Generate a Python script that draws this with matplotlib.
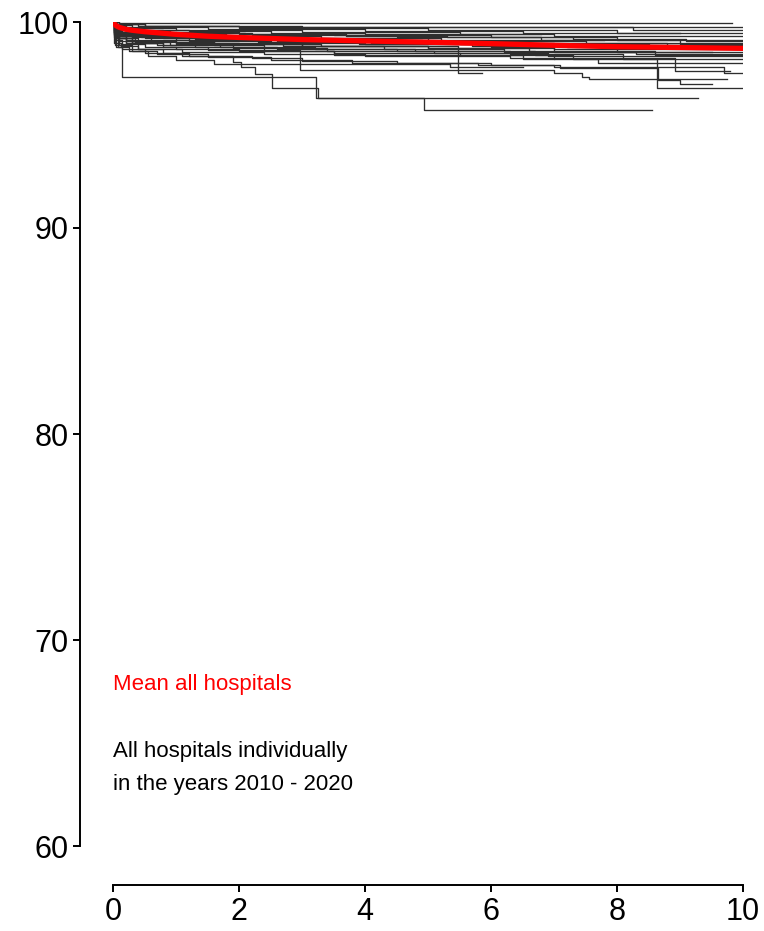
import matplotlib
matplotlib.use("Agg")
import matplotlib.pyplot as plt

plt.rcParams["font.family"] = ["Liberation Sans", "DejaVu Sans"]

# Mean survival curve over all hospitals (years, percent)
mean_t = [0, 0.02, 0.05, 0.1, 0.2, 0.3, 0.5, 1.0, 1.5, 2.0, 3.0, 4.0, 5.0, 6.0, 7.0, 8.0, 9.0, 10.0]
mean_v = [100, 99.92, 99.82, 99.74, 99.65, 99.6, 99.53, 99.4, 99.31, 99.25, 99.15, 99.08, 99.02, 98.95, 98.87, 98.8, 98.76, 98.72]

# Individual hospital step curves: event times, survival after each event, last follow-up
hosp_times = [
    [0, 0.1, 1.2],
    [0, 0.05, 0.4, 3.0],
    [0, 0.1, 0.5, 2.0, 8.25],
    [0, 0.05, 0.3, 1.5, 4.0, 6.5],
    [0, 0.05, 0.2, 1.0, 3.0, 5.5, 7.0],
    [0, 0.03, 0.15, 0.8, 2.0, 3.5, 6.0, 8.0],
    [0, 0.05, 0.3, 1.2, 2.5, 4.0],
    [0, 0.02, 0.2, 0.7, 1.8, 3.3, 5.2, 7.5],
    [0, 0.04, 0.25, 1.0, 2.2, 4.5, 6.8, 9.0],
    [0, 0.03, 0.1, 0.5, 1.5, 3.0, 5.0],
    [0, 0.02, 0.12, 0.6, 1.4, 2.8, 4.2, 6.5, 8.5],
    [0, 0.03, 0.2, 0.9, 2.0, 3.6, 5.5, 7.2],
    [0, 0.02, 0.15, 0.5, 1.2, 2.5, 4.0, 6.0, 7.0],
    [0, 0.05, 0.3, 1.0, 2.3, 3.9, 5.7, 8.0],
    [0, 0.02, 0.1, 0.4, 1.0, 2.0, 3.0, 5.0, 6.6, 8.6],
    [0, 0.03, 0.2, 0.6, 1.6, 3.3, 5.0, 7.0],
    [0, 0.02, 0.1, 0.3, 0.8, 1.7, 3.2, 4.8, 6.3, 8.1],
    [0, 0.04, 0.2, 0.7, 1.3, 2.6, 4.5, 6.7, 7.3, 7.7],
    [0, 0.03, 0.15, 0.5, 1.0, 2.0, 3.5, 5.5, 7.0, 8.63],
    [0, 0.05, 0.3, 0.8, 1.5, 2.97, 7.0, 7.45, 7.55],
    [0, 0.02, 0.12, 0.4, 1.1, 2.4, 4.0, 6.3, 8.92],
    [0, 0.05, 0.3, 1.0, 3.0, 5.47],
    [0, 0.05, 0.2, 0.4, 0.8, 1.2, 1.9, 2.03, 2.26, 2.52, 3.25, 4.94],
    [0, 0.03, 0.08, 0.14, 3.22],
    [0, 0.03, 0.15, 0.5, 1.1, 2.2, 3.0, 4.5, 6.0, 7.0, 9.7],
    [0, 0.05, 0.25, 0.7, 1.5, 2.5, 3.8, 5.8, 7.1, 8.65, 9.0],
    [0, 0.02, 0.1, 0.5, 1.5, 2.8, 4.4, 7.0],
    [0, 0.05, 0.5, 2.0, 5.0, 8.0],
    [0, 0.03, 0.2, 0.8, 1.6, 2.4, 3.5, 6.5],
    [0, 0.03, 0.1, 0.3, 0.55, 1.0, 1.6, 5.35],
    [0, 0.02, 0.1, 0.35, 0.9, 1.9, 3.4, 5.1, 6.9],
    [0, 0.04, 0.2, 0.6, 1.4, 2.7, 4.3, 6.2, 8.3],
    [0, 0.03, 0.15, 0.7, 1.7, 3.1, 4.9, 6.4, 8.8],
    [0, 0.02, 0.1, 0.45, 1.3, 2.6, 4.1, 5.9, 7.6],
    [0, 0.04, 0.25, 0.9, 2.1, 3.7, 5.3, 7.3, 9.1],
]
hosp_surv = [
    [100, 99.96, 99.94],
    [100, 99.9, 99.8, 99.74],
    [100, 99.88, 99.8, 99.74, 99.61],
    [100, 99.85, 99.75, 99.65, 99.55, 99.45],
    [100, 99.8, 99.7, 99.6, 99.5, 99.4, 99.3],
    [100, 99.7, 99.6, 99.5, 99.42, 99.35, 99.25, 99.15],
    [100, 99.75, 99.62, 99.55, 99.48, 99.4],
    [100, 99.6, 99.5, 99.4, 99.3, 99.2, 99.1, 99.0],
    [100, 99.65, 99.52, 99.45, 99.35, 99.25, 99.12, 98.95],
    [100, 99.55, 99.45, 99.35, 99.28, 99.2, 99.12],
    [100, 99.5, 99.4, 99.3, 99.22, 99.15, 99.05, 98.95, 98.85],
    [100, 99.5, 99.35, 99.25, 99.15, 99.05, 98.95, 98.8],
    [100, 99.45, 99.3, 99.2, 99.1, 99.0, 98.92, 98.8, 98.7],
    [100, 99.4, 99.25, 99.15, 99.05, 98.95, 98.85, 98.55],
    [100, 99.35, 99.22, 99.1, 99.0, 98.92, 98.85, 98.75, 98.6, 98.4],
    [100, 99.3, 99.15, 99.05, 98.95, 98.85, 98.75, 98.55],
    [100, 99.25, 99.1, 99.0, 98.9, 98.8, 98.7, 98.6, 98.45, 98.2],
    [100, 99.2, 99.0, 98.9, 98.8, 98.7, 98.6, 98.4, 98.2, 97.99],
    [100, 99.15, 98.95, 98.8, 98.7, 98.6, 98.5, 98.4, 98.2, 96.78],
    [100, 99.2, 99.0, 98.8, 98.65, 97.65, 97.5, 97.35, 97.22],
    [100, 99.0, 98.85, 98.7, 98.55, 98.45, 98.35, 98.25, 97.62],
    [100, 99.3, 99.1, 98.95, 98.85, 97.5],
    [100, 99.3, 99.0, 98.7, 98.5, 98.35, 98.07, 97.8, 97.46, 96.78, 96.33, 95.73],
    [100, 99.5, 98.8, 97.35, 96.33],
    [100, 98.9, 98.7, 98.5, 98.35, 98.25, 98.1, 98.0, 97.9, 97.8, 97.5],
    [100, 98.8, 98.6, 98.45, 98.3, 98.15, 98.0, 97.9, 97.75, 97.2, 97.0],
    [100, 99.6, 99.45, 99.3, 99.2, 99.1, 99.0, 98.9],
    [100, 99.9, 99.8, 99.7, 99.6, 99.45],
    [100, 99.6, 99.4, 99.2, 98.9, 98.6, 98.4, 98.2],
    [100, 99.2, 98.9, 98.6, 98.35, 98.15, 97.95, 97.8],
    [100, 99.4, 99.2, 99.05, 98.9, 98.75, 98.6, 98.5, 98.35],
    [100, 99.45, 99.3, 99.15, 99.0, 98.85, 98.7, 98.55, 98.45],
    [100, 99.55, 99.4, 99.3, 99.2, 99.12, 99.05, 98.98, 98.9],
    [100, 99.5, 99.38, 99.28, 99.18, 99.08, 99.0, 98.9, 98.82],
    [100, 99.7, 99.58, 99.48, 99.4, 99.32, 99.25, 99.18, 99.1],
]
hosp_end = [9.83, 10, 10, 9.0, 10, 10, 6.8, 10, 10, 7.8, 10, 10, 10, 10, 10, 9.5,
            10, 10, 10, 9.75, 9.8, 5.85, 8.55, 9.28, 10, 9.5, 10, 10, 7.0, 6.5, 10, 10,
            10, 10, 10]

x_ticks = [0, 2, 4, 6, 8, 10]
y_ticks = [60, 70, 80, 90, 100]

fig = plt.figure(figsize=(7.64, 9.31), dpi=100)
ax = fig.add_axes([113 / 764, 1 - 846 / 931, 630 / 764, 824 / 931])

for t, s, end in zip(hosp_times, hosp_surv, hosp_end):
    ax.step(t + [end], s + [s[-1]], where="post", color="#2e2e2e", lw=0.95)

ax.plot(mean_t, mean_v, color="#ff0000", lw=3.8, solid_capstyle="round")

ax.set_xlim(0, 10)
ax.set_ylim(60, 100)
ax.set_xticks(x_ticks)
ax.set_yticks(y_ticks)

for side in ("top", "right"):
    ax.spines[side].set_visible(False)
ax.spines["left"].set_position(("outward", 23.8))
ax.spines["bottom"].set_position(("outward", 28))
for side in ("left", "bottom"):
    ax.spines[side].set_linewidth(1.4)
ax.tick_params(axis="both", direction="out", length=5, width=1.4, labelsize=22, colors="black")
ax.tick_params(axis="y", pad=3)
ax.tick_params(axis="x", pad=4)

ax.text(0, 67.57, "Mean all hospitals", color="#ff0000", fontsize=16, va="baseline", ha="left")
ax.text(0, 64.32, "All hospitals individually", color="black", fontsize=16, va="baseline", ha="left")
ax.text(0, 62.72, "in the years 2010 - 2020", color="black", fontsize=16, va="baseline", ha="left")

fig.savefig("out.png", dpi=100, facecolor="white")
